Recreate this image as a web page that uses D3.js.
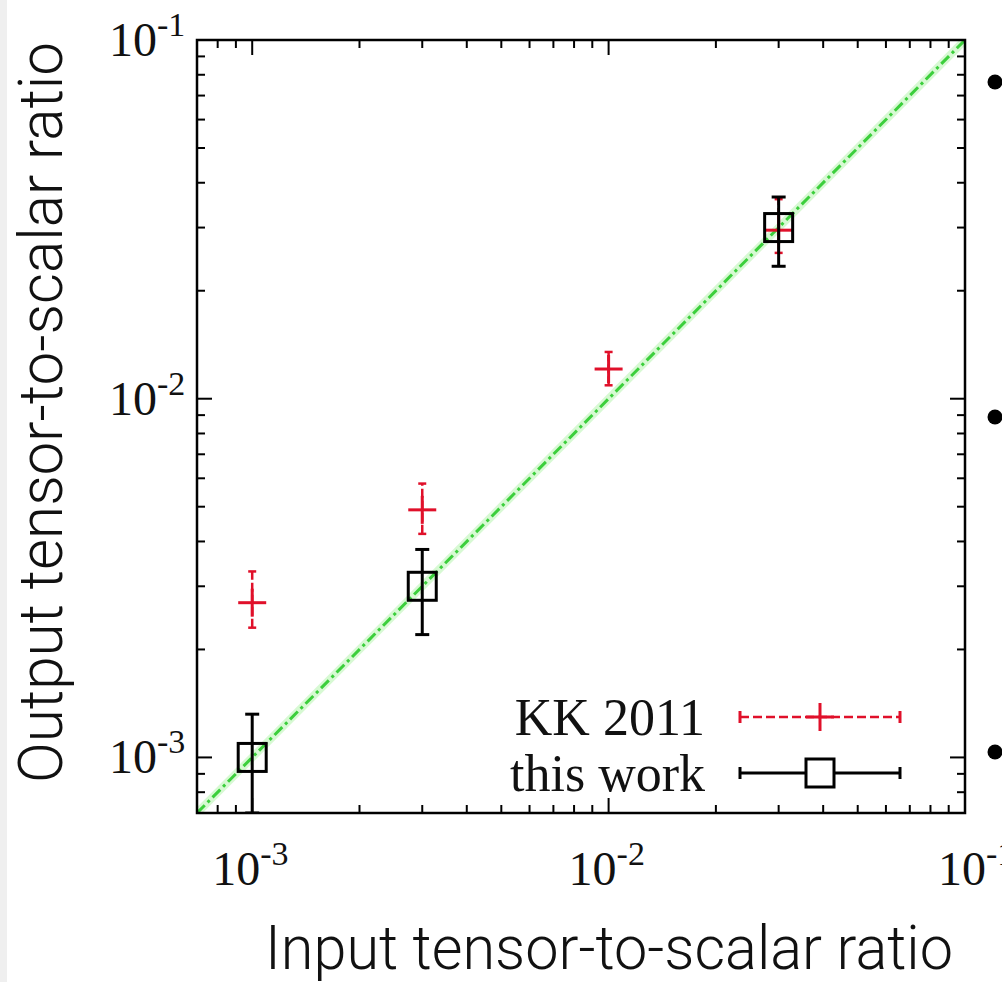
<!DOCTYPE html>
<html>
<head>
<meta charset="utf-8">
<script src="https://cdn.jsdelivr.net/npm/d3@7"></script>
<style>
  html, body { margin: 0; padding: 0; background: #fff; }
  svg { display: block; }
</style>
</head>
<body>
<div id="vis"></div>
<script>
'use strict';

//data
var kkX = [0.001, 0.003, 0.01, 0.03];
var kkY = [0.0027, 0.0049, 0.0121, 0.0295];
var kkLo = [0.0023, 0.0042, 0.0109, 0.0255];
var kkHi = [0.0033, 0.0058, 0.0135, 0.036];

var workX = [0.001, 0.003, 0.03];
var workY = [0.001, 0.003, 0.03];
var workLo = [0.0007, 0.0022, 0.0234];
var workHi = [0.00132, 0.0038, 0.0365];

var axisDomain = [0.0007, 0.1];
var decades = [-3, -2, -1];
var legendNames = ['KK 2011', 'this work'];

//layout
var W = 1002, H = 982;
var margin = { top: 40, left: 197 };
var dim = { w: 768, h: 773 };

var colors = { kk: '#e0102a', work: '#000', diag: '#33cc33', frame: '#000' };
var serif = '"Liberation Serif", "Times New Roman", serif';
var narrow = 'Roboto, "Liberation Sans", sans-serif';

var x = d3.scaleLog().domain(axisDomain).range([0, dim.w]);
var y = d3.scaleLog().domain(axisDomain).range([dim.h, 0]);

var svg = d3.select('#vis').append('svg')
    .attr('width', W)
    .attr('height', H);

//slide edge strip
svg.append('rect').attr('width', 7).attr('height', H).attr('fill', '#efefef');

var g = svg.append('g')
    .attr('transform', 'translate(' + margin.left + ',' + margin.top + ')');

svg.append('defs').append('clipPath').attr('id', 'clip')
    .append('rect').attr('width', dim.w).attr('height', dim.h);

//ticks on all four sides, inward
var isMajor = function (v) {
    return Math.abs(Math.log10(v) - Math.round(Math.log10(v))) < 1e-9;
};
x.ticks().forEach(function (v) {
    var len = isMajor(v) ? 15 : 8;
    g.append('line').attr('x1', x(v)).attr('x2', x(v))
        .attr('y1', dim.h).attr('y2', dim.h - len)
        .attr('stroke', colors.frame).attr('stroke-width', 2);
    g.append('line').attr('x1', x(v)).attr('x2', x(v))
        .attr('y1', 0).attr('y2', len)
        .attr('stroke', colors.frame).attr('stroke-width', 2);
});
y.ticks().forEach(function (v) {
    var len = isMajor(v) ? 15 : 8;
    g.append('line').attr('y1', y(v)).attr('y2', y(v))
        .attr('x1', 0).attr('x2', len)
        .attr('stroke', colors.frame).attr('stroke-width', 2);
    g.append('line').attr('y1', y(v)).attr('y2', y(v))
        .attr('x1', dim.w).attr('x2', dim.w - len)
        .attr('stroke', colors.frame).attr('stroke-width', 2);
});

//tick labels 10^n
function powerLabel(sel, e) {
    sel.append('tspan').text('10');
    sel.append('tspan').attr('dy', -20).attr('font-size', 34).text('-' + Math.abs(e));
}
decades.forEach(function (e, i) {
    var v = Math.pow(10, e);
    var t = g.append('text')
        .attr('x', x(v) - 40 + (i === decades.length - 1 ? 13 : 0))
        .attr('y', dim.h + 72)
        .attr('font-family', serif)
        .attr('font-size', 48)
        .attr('fill', '#111');
    powerLabel(t, e);

    var ty = g.append('text')
        .attr('x', -88)
        .attr('y', y(v) + 16)
        .attr('font-family', serif)
        .attr('font-size', 48)
        .attr('fill', '#111');
    powerLabel(ty, e);
});

//diagonal y = x
var diag = g.append('g').attr('clip-path', 'url(#clip)');
diag.append('line')
    .attr('x1', x(axisDomain[0])).attr('y1', y(axisDomain[0]))
    .attr('x2', x(axisDomain[1])).attr('y2', y(axisDomain[1]))
    .attr('stroke', '#b8f5b0').attr('stroke-width', 8).attr('opacity', 0.55);
diag.append('line')
    .attr('x1', x(axisDomain[0])).attr('y1', y(axisDomain[0]))
    .attr('x2', x(axisDomain[1])).attr('y2', y(axisDomain[1]))
    .attr('stroke', '#3ccf3c').attr('stroke-width', 3)
    .attr('stroke-dasharray', '11,4,3,4');

var marks = g.append('g').attr('clip-path', 'url(#clip)');

//KK 2011: red plus with dashed error bars
kkX.forEach(function (v, i) {
    var cx = x(v);
    marks.append('line')
        .attr('x1', cx).attr('x2', cx)
        .attr('y1', y(kkLo[i])).attr('y2', y(kkHi[i]))
        .attr('stroke', colors.kk).attr('stroke-width', 2.5)
        .attr('stroke-dasharray', '9,3');
    [kkLo[i], kkHi[i]].forEach(function (b) {
        marks.append('line')
            .attr('x1', cx - 4).attr('x2', cx + 4)
            .attr('y1', y(b)).attr('y2', y(b))
            .attr('stroke', colors.kk).attr('stroke-width', 2.5);
    });
    marks.append('line')
        .attr('x1', cx - 14).attr('x2', cx + 14)
        .attr('y1', y(kkY[i])).attr('y2', y(kkY[i]))
        .attr('stroke', colors.kk).attr('stroke-width', 3);
    marks.append('line')
        .attr('x1', cx).attr('x2', cx)
        .attr('y1', y(kkY[i]) - 14).attr('y2', y(kkY[i]) + 14)
        .attr('stroke', colors.kk).attr('stroke-width', 3);
});

//this work: black squares with error bars
workX.forEach(function (v, i) {
    var cx = x(v);
    marks.append('line')
        .attr('x1', cx).attr('x2', cx)
        .attr('y1', y(workLo[i])).attr('y2', y(workHi[i]))
        .attr('stroke', colors.work).attr('stroke-width', 3);
    [workLo[i], workHi[i]].forEach(function (b) {
        marks.append('line')
            .attr('x1', cx - 7).attr('x2', cx + 7)
            .attr('y1', y(b)).attr('y2', y(b))
            .attr('stroke', colors.work).attr('stroke-width', 3);
    });
    marks.append('rect')
        .attr('x', cx - 14).attr('y', y(workY[i]) - 14)
        .attr('width', 28).attr('height', 28)
        .attr('fill', 'none')
        .attr('stroke', colors.work).attr('stroke-width', 3);
});

//frame
g.append('rect')
    .attr('width', dim.w).attr('height', dim.h)
    .attr('fill', 'none').attr('stroke', colors.frame).attr('stroke-width', 2.5);

//legend
var legend = g.append('g').attr('transform', 'translate(0,' + (dim.h - 96) + ')');
legendNames.forEach(function (name, i) {
    var ly = i * 56;
    legend.append('text')
        .attr('x', 508).attr('y', ly + 18)
        .attr('text-anchor', 'end')
        .attr('font-family', serif)
        .attr('font-size', 52)
        .attr('fill', '#111')
        .text(name);
    var col = i === 0 ? colors.kk : colors.work;
    legend.append('line')
        .attr('x1', 543).attr('x2', 703).attr('y1', ly).attr('y2', ly)
        .attr('stroke', col).attr('stroke-width', i === 0 ? 2.5 : 3)
        .attr('stroke-dasharray', i === 0 ? '9,4' : null);
    [543, 703].forEach(function (ex) {
        legend.append('line')
            .attr('x1', ex).attr('x2', ex).attr('y1', ly - 6).attr('y2', ly + 6)
            .attr('stroke', col).attr('stroke-width', 3);
    });
    if (i === 0) {
        legend.append('line').attr('x1', 623).attr('x2', 623)
            .attr('y1', ly - 14).attr('y2', ly + 14)
            .attr('stroke', col).attr('stroke-width', 3);
        legend.append('line').attr('x1', 609).attr('x2', 637)
            .attr('y1', ly).attr('y2', ly)
            .attr('stroke', col).attr('stroke-width', 3);
    } else {
        legend.append('rect')
            .attr('x', 609).attr('y', ly - 14).attr('width', 28).attr('height', 28)
            .attr('fill', '#fff').attr('stroke', col).attr('stroke-width', 3);
    }
});

//axis titles
svg.append('text')
    .attr('x', 265).attr('y', 969)
    .attr('font-family', narrow)
    .attr('font-weight', 300)
    .attr('font-size', 62)
    .attr('textLength', 688).attr('lengthAdjust', 'spacingAndGlyphs')
    .attr('fill', '#111')
    .text('Input tensor-to-scalar ratio');
svg.append('text')
    .attr('transform', 'translate(62,783) rotate(-90)')
    .attr('font-family', narrow)
    .attr('font-weight', 300)
    .attr('font-size', 62)
    .attr('textLength', 741).attr('lengthAdjust', 'spacingAndGlyphs')
    .attr('fill', '#111')
    .text('Output tensor-to-scalar ratio');

//slide bullets at the right edge
[82, 417, 752].forEach(function (by) {
    svg.append('circle').attr('cx', 995).attr('cy', by).attr('r', 7.5).attr('fill', '#000');
});
</script>
</body>
</html>
